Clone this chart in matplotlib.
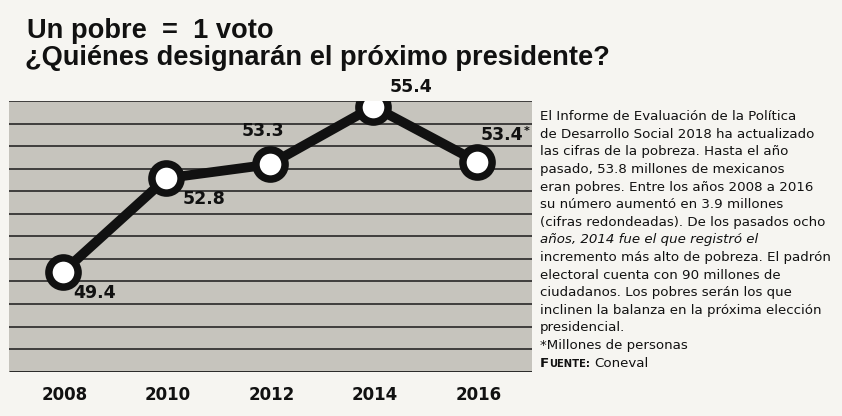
import matplotlib
matplotlib.use("Agg")
import matplotlib.pyplot as plt
import numpy as np
from matplotlib.lines import Line2D

years = [2008, 2010, 2012, 2014, 2016]
poor_millions = [49.4, 52.8, 53.3, 55.4, 53.4]
value_labels = ["49.4", "52.8", "53.3", "55.4", "53.4"]
year_labels = ["2008", "2010", "2012", "2014", "2016"]

title_1 = "Un pobre  =  1 voto"
title_2 = "¿Quiénes designarán el próximo presidente?"
body_lines = [
    ("El Informe de Evaluación de la Política", "normal"),
    ("de Desarrollo Social 2018 ha actualizado", "normal"),
    ("las cifras de la pobreza. Hasta el año", "normal"),
    ("pasado, 53.8 millones de mexicanos", "normal"),
    ("eran pobres. Entre los años 2008 a 2016", "normal"),
    ("su número aumentó en 3.9 millones", "normal"),
    ("(cifras redondeadas). De los pasados ocho", "normal"),
    ("años, 2014 fue el que registró el", "italic"),
    ("incremento más alto de pobreza. El padrón", "normal"),
    ("electoral cuenta con 90 millones de", "normal"),
    ("ciudadanos. Los pobres serán los que", "normal"),
    ("inclinen la balanza en la próxima elección", "normal"),
    ("presidencial.", "normal"),
    ("*Millones de personas", "normal"),
]
source_text = "Coneval"

# offsets (points) of each value label from its marker
label_offsets = [(23, -15), (27, -15), (-5, 24), (27, 14), (18, 19)]

page = "#f6f5f1"
gray = "#c6c4bd"
ink = "#111111"

fig = plt.figure(figsize=(8.42, 4.16), dpi=100, facecolor=page)
ax = fig.add_axes([9/842, 1-371.7/416, 523/842, 270.7/416])
ax.set_facecolor(gray)
ax.set_xlim(2006.957, 2017.063)
ax.set_ylim(45.781, 55.60)
for s in ax.spines.values():
    s.set_visible(False)
ax.set_xticks([])
ax.set_yticks([])

fracs = np.linspace(0, 1, 13)
for i, f in enumerate(fracs):
    lw = 2.0 if i == 0 else 1.1
    ax.add_line(Line2D([0, 1], [f, f], transform=ax.transAxes, color="#1a1a1a",
                       lw=lw, zorder=1, solid_capstyle="butt"))

ax.plot(years, poor_millions, color=ink, lw=7, zorder=3, solid_joinstyle="round")
ax.plot(years, poor_millions, "o", ms=21, mfc="white", mec=ink, mew=5.4, zorder=4)

for x, y, lab, off in zip(years, poor_millions, value_labels, label_offsets):
    ax.annotate(lab, (x, y), xytext=off, textcoords="offset points",
                ha="center", va="center", fontsize=12.5, fontweight="bold",
                family="DejaVu Sans", color=ink, zorder=5, annotation_clip=False)
# asterisk on last label
ax.annotate("*", (years[-1], poor_millions[-1]), xytext=(36, 22), textcoords="offset points",
            ha="center", va="center", fontsize=8, fontweight="bold", color=ink,
            family="DejaVu Sans", annotation_clip=False)

for x, lab in zip(years, year_labels):
    ax.annotate(lab, (x, 0), xycoords=("data", "axes fraction"), xytext=(1, -17),
                textcoords="offset points", ha="center", va="center",
                fontsize=12, fontweight="bold", family="DejaVu Sans", color=ink,
                annotation_clip=False)

fig.text(27/842, 1-38/416, title_1, fontsize=19.6, fontweight="bold",
         family="Liberation Sans", color=ink, ha="left", va="baseline")
fig.text(25/842, 1-65/416, title_2, fontsize=19.6, fontweight="bold",
         family="Liberation Sans", color=ink, ha="left", va="baseline")

x0 = 540/842
y_first = 116.7
step = 17.6
fs = 9.6
for i, (line, style) in enumerate(body_lines):
    fig.text(x0, 1-(y_first+i*step)/416, line, fontsize=fs, style=style,
             family="DejaVu Sans", color=ink, ha="left", va="center")

# FUENTE in small caps
yy = 1-(y_first+len(body_lines)*step + 4)/416
r = fig.canvas.get_renderer()
t1 = fig.text(x0, yy, "F", fontsize=fs, fontweight="bold", family="DejaVu Sans",
              color=ink, ha="left", va="baseline")
bb = t1.get_window_extent(renderer=r)
t2 = fig.text(bb.x1/842, yy, "UENTE:", fontsize=fs*0.75, fontweight="bold",
              family="DejaVu Sans", color=ink, ha="left", va="baseline")
bb2 = t2.get_window_extent(renderer=r)
fig.text(bb2.x1/842 + 4/842, yy, source_text, fontsize=fs, family="DejaVu Sans",
         color=ink, ha="left", va="baseline")

fig.savefig("out.png", dpi=100, facecolor=page)
